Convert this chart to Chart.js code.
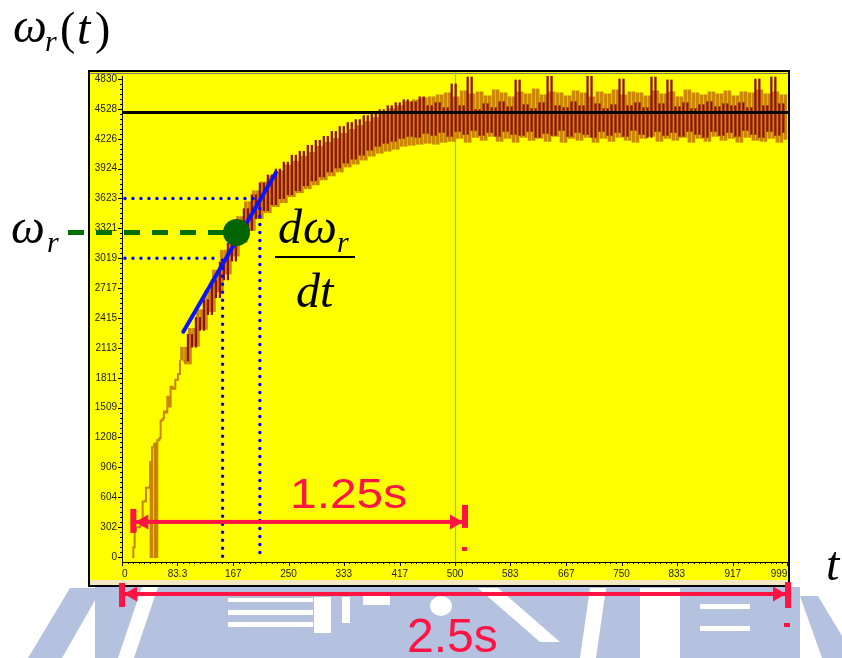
<!DOCTYPE html>
<html>
<head>
<meta charset="utf-8">
<script src="https://cdn.jsdelivr.net/npm/chart.js@4.4.1/dist/chart.umd.min.js"></script>
<style>
  html, body { margin: 0; padding: 0; background: #fff; }
  canvas { display: block; }
</style>
</head>
<body>
<canvas id="speed_canvas" width="842" height="658"></canvas>
<script>
// tick labels as printed on the plot
var yTickLabels = [0, 302, 604, 906, 1208, 1509, 1811, 2113, 2415, 2717, 3019, 3321, 3623, 3924, 4226, 4528, 4830];
var xTickLabels = [0, 83.3, 167, 250, 333, 417, 500, 583, 667, 750, 833, 917, 999];

// start of the run, read point by point
var earlyTimes = [15, 17, 19, 21, 27, 31, 35, 36, 41, 42, 43, 45, 48, 49, 50, 51, 53, 56, 58, 61, 63, 66, 68, 71, 73, 76, 80, 84, 87];
var earlySpeed = [0, 100, 270, 300, 320, 560, 570, 700, 710, 960, 0, 1110, 1140, 0, 1150, 0, 1180, 1200, 1380, 1400, 1470, 1460, 1620, 1520, 1720, 1700, 1790, 1850, 1990];

// noisy part, one sample every 6 time units
var sampleStep = 6;
var orangeStart = 90;
var orangeSpeed = [
  2120,1950,2310,2130,2500,2300,2690,2480,2900,2680,
  3100,2860,3260,3040,3440,3180,3590,3300,3700,3420,
  3790,3480,3850,3540,3900,3580,3960,3640,4000,3680,
  4050,3720,4090,3760,4150,3810,4190,3850,4230,3890,
  4280,3940,4320,3970,4360,4010,4400,4050,4440,4080,
  4500,4100,4530,4120,4560,4150,4600,4160,4620,4170,
  4640,4180,4650,4170,4670,4190,
  4690,4200,4650,4230,4710,4190,4680,4240,4700,4210,
  4660,4250,4720,4200,4690,4230,4650,4190,4700,4240,
  4680,4210,4730,4230,4670,4200,4700,4250,4690,4190,
  4660,4230,4710,4210,4690,4240,4650,4190,4700,4230,
  4680,4200,4720,4240,4670,4210,4700,4190,4690,4230,
  4660,4250,4710,4200,4680,4230,4700,4210,4650,4240,
  4720,4190,4690,4230,4670,4200,4700,4250,4680,4210,
  4710,4230,4660,4190,4700,4240,4690,4210,4720,4200,
  4680,4230,4700,4190,4670,4220
];
var redStart = 93;
var redSpeed = [
  1980,2250,2120,2420,2290,2600,2450,2800,2620,2980,
  2800,3170,2990,3350,3180,3520,3300,3660,3420,3780,
  3500,3860,3560,3920,3620,3990,3660,4060,3700,4100,
  3750,4160,3800,4210,3840,4250,3890,4300,3930,4350,
  3980,4390,4020,4420,4060,4460,4110,4500,4150,4520,
  4180,4560,4200,4590,4230,4620,4250,4600,4240,4650,
  4280,4560,4260,4590,4290,4540,4250,4780,4300,4560,
  4270,4850,4310,4520,4260,4580,4290,4540,4250,4600,
  4300,4550,4270,4820,4260,4570,4300,4530,4240,4590,
  4280,4860,4260,4560,4310,4540,4250,4600,4290,4560,
  4270,4860,4240,4580,4300,4530,4260,4570,4290,4830,
  4250,4560,4310,4590,4270,4540,4240,4850,4300,4580,
  4260,4820,4290,4550,4250,4590,4300,4530,4270,4570,
  4240,4600,4300,4550,4260,4580,4290,4560,4250,4590,
  4310,4540,4270,4830,4240,4560,4300,4850,4260,4580,
  4290
];

// marks drawn over the plot (data units)
var steadySpeed = 4490;
var halfTime = 500;
var pointTime = 172, pointSpeed = 3280;
var tangentTimes = [92, 231];
var tangentSpeed = [2276, 3882];
var dotSpeeds = [3623, 3019];
var dotTimes = [207, 151];
var shortArrow = [17, 515];
var shortArrowSpeed = 355;
var longArrow = [0, 1000];

var red = '#FF1443';

function earlyData() {
  var out = [];
  for (var i = 0; i < earlyTimes.length; i++) out.push({x: earlyTimes[i], y: earlySpeed[i]});
  return out;
}
// each sample is drawn as the vertical jump from the previous sample (sample and hold trace)
function jumpData(start, values, firstFrom) {
  var out = [];
  for (var j = 0; j < values.length; j++) {
    var from = j > 0 ? values[j - 1] : firstFrom;
    out.push({x: start + j * sampleStep, y: [from, values[j]]});
  }
  return out;
}

function drawWatermark(ctx) {
  ctx.save();
  ctx.fillStyle = '#B4C2E0';
  ctx.fillRect(95, 587, 705, 71);
  ctx.beginPath();
  ctx.moveTo(28, 658); ctx.lineTo(62, 658); ctx.lineTo(102, 588); ctx.lineTo(70, 588);
  ctx.fill();
  ctx.beginPath();
  ctx.moveTo(800, 596); ctx.lineTo(818, 596); ctx.lineTo(842, 636); ctx.lineTo(842, 658); ctx.lineTo(822, 658);
  ctx.fill();
  ctx.fillStyle = '#fff';
  ctx.beginPath();
  ctx.moveTo(118, 658); ctx.lineTo(134, 658); ctx.lineTo(158, 587); ctx.lineTo(142, 587);
  ctx.fill();
  ctx.fillRect(228, 598, 85, 4);
  ctx.fillRect(228, 610, 85, 5);
  ctx.fillRect(228, 622, 85, 5);
  ctx.fillRect(314, 597, 17, 36);
  ctx.fillRect(342, 597, 8, 26);
  ctx.fillRect(363, 595, 27, 10);
  ctx.beginPath();
  ctx.ellipse(441, 606, 11, 10, 0, 0, Math.PI * 2);
  ctx.fill();
  ctx.beginPath();
  ctx.moveTo(478, 588); ctx.lineTo(498, 588); ctx.lineTo(560, 642); ctx.lineTo(540, 642);
  ctx.fill();
  ctx.beginPath();
  ctx.moveTo(590, 588); ctx.lineTo(606, 588); ctx.lineTo(596, 658); ctx.lineTo(580, 658);
  ctx.fill();
  ctx.fillRect(640, 588, 40, 70);
  ctx.fillRect(700, 604, 50, 5);
  ctx.fillRect(700, 626, 50, 5);
  ctx.restore();
}

function drawFrame(ctx) {
  ctx.save();
  ctx.fillStyle = '#FFFF00';
  ctx.fillRect(90, 72, 699, 514);
  ctx.fillStyle = '#F3E8C0';
  ctx.fillRect(90, 580, 699, 5);
  ctx.fillStyle = '#777';
  ctx.fillRect(90, 73, 698, 1);
  ctx.strokeStyle = '#000';
  ctx.lineWidth = 2;
  ctx.strokeRect(89, 71, 700, 515);
  ctx.restore();
}

function drawAxisTicks(chart) {
  var ctx = chart.ctx, xs = chart.scales.x, ys = chart.scales.y;
  ctx.save();
  ctx.strokeStyle = '#000';
  ctx.lineWidth = 1;
  ctx.beginPath();
  var i, k, p;
  for (i = 0; i < yTickLabels.length; i++) {
    p = Math.round(ys.getPixelForValue(yTickLabels[i])) + 0.5;
    ctx.moveTo(xs.left - 4, p); ctx.lineTo(xs.left, p);
    var gap = i < yTickLabels.length - 1 ? yTickLabels[i + 1] - yTickLabels[i] : 302;
    for (k = 1; k < 6; k++) {
      var vy = yTickLabels[i] + gap * k / 6;
      if (vy > ys.max) break;
      p = Math.round(ys.getPixelForValue(vy)) + 0.5;
      ctx.moveTo(xs.left - 2, p); ctx.lineTo(xs.left, p);
    }
  }
  for (i = 0; i < xTickLabels.length; i++) {
    p = Math.round(xs.getPixelForValue(xTickLabels[i])) + 0.5;
    ctx.moveTo(p, ys.bottom); ctx.lineTo(p, ys.bottom + 4);
    if (i < xTickLabels.length - 1) {
      for (k = 1; k < 10; k++) {
        var vx = xTickLabels[i] + (xTickLabels[i + 1] - xTickLabels[i]) * k / 10;
        p = Math.round(xs.getPixelForValue(vx)) + 0.5;
        ctx.moveTo(p, ys.bottom); ctx.lineTo(p, ys.bottom + 2);
      }
    }
  }
  ctx.stroke();
  ctx.restore();
}

function redArrow(ctx, x1, x2, y, leftBar, rightBar) {
  ctx.fillStyle = red;
  ctx.fillRect(x1 - 3, leftBar[0], 6, leftBar[1] - leftBar[0]);
  ctx.fillRect(x2 - 3, rightBar[0], 6, rightBar[1] - rightBar[0]);
  ctx.fillRect(x1, y - 2, x2 - x1, 4);
  ctx.beginPath();
  ctx.moveTo(x1 + 2, y); ctx.lineTo(x1 + 15, y - 7.5); ctx.lineTo(x1 + 15, y + 7.5);
  ctx.closePath(); ctx.fill();
  ctx.beginPath();
  ctx.moveTo(x2 - 2, y); ctx.lineTo(x2 - 15, y - 7.5); ctx.lineTo(x2 - 15, y + 7.5);
  ctx.closePath(); ctx.fill();
}

function mathText(ctx, txt, x, y, size, italic) {
  ctx.font = (italic ? 'italic ' : '') + size + 'px "Liberation Serif", "DejaVu Serif", serif';
  ctx.fillText(txt, x, y);
}

var marks = {
  id: 'marks',
  beforeDraw: function(chart) {
    var ctx = chart.ctx;
    ctx.save();
    ctx.fillStyle = '#fff';
    ctx.fillRect(0, 0, chart.width, chart.height);
    ctx.restore();
    drawWatermark(ctx);
    drawFrame(ctx);
  },
  beforeDatasetsDraw: function(chart) {
    var ctx = chart.ctx, xs = chart.scales.x, ys = chart.scales.y;
    var px = Math.round(xs.getPixelForValue(halfTime)) + 0.5;
    ctx.save();
    ctx.strokeStyle = '#3FD8C8';
    ctx.lineWidth = 1.2;
    ctx.beginPath();
    ctx.moveTo(px, ys.top - 4); ctx.lineTo(px, ys.bottom);
    ctx.stroke();
    ctx.restore();
  },
  afterDatasetsDraw: function(chart) {
    var ctx = chart.ctx, xs = chart.scales.x, ys = chart.scales.y;
    ctx.save();
    ctx.strokeStyle = '#000';
    ctx.lineWidth = 3;
    ctx.beginPath();
    var sy = ys.getPixelForValue(steadySpeed);
    ctx.moveTo(xs.left, sy); ctx.lineTo(xs.right, sy);
    ctx.stroke();

    ctx.strokeStyle = '#0000FF';
    ctx.lineWidth = 3.5;
    ctx.lineCap = 'round';
    ctx.setLineDash([0, 8]);
    for (var i = 0; i < dotSpeeds.length; i++) {
      var gy = ys.getPixelForValue(dotSpeeds[i]);
      var gx = xs.getPixelForValue(dotTimes[i]);
      ctx.beginPath();
      ctx.moveTo(xs.left + 3, gy); ctx.lineTo(gx - 4, gy);
      ctx.stroke();
      ctx.beginPath();
      ctx.moveTo(gx, gy + 2); ctx.lineTo(gx, ys.getPixelForValue(0));
      ctx.stroke();
    }
    ctx.setLineDash([]);

    ctx.strokeStyle = '#0A14FF';
    ctx.lineWidth = 4;
    ctx.beginPath();
    ctx.moveTo(xs.getPixelForValue(tangentTimes[0]), ys.getPixelForValue(tangentSpeed[0]));
    ctx.lineTo(xs.getPixelForValue(tangentTimes[1]), ys.getPixelForValue(tangentSpeed[1]));
    ctx.stroke();
    ctx.restore();
  },
  afterDraw: function(chart) {
    var ctx = chart.ctx, xs = chart.scales.x, ys = chart.scales.y;
    drawAxisTicks(chart);
    ctx.save();

    var px = xs.getPixelForValue(pointTime), py = ys.getPixelForValue(pointSpeed);
    ctx.strokeStyle = '#007000';
    ctx.lineWidth = 5;
    ctx.setLineDash([16, 12]);
    ctx.beginPath();
    ctx.moveTo(68, py); ctx.lineTo(px, py);
    ctx.stroke();
    ctx.setLineDash([]);
    ctx.fillStyle = '#006400';
    ctx.beginPath();
    ctx.arc(px, py, 13.5, 0, Math.PI * 2);
    ctx.fill();

    var ay = ys.getPixelForValue(shortArrowSpeed);
    redArrow(ctx, xs.getPixelForValue(shortArrow[0]), xs.getPixelForValue(shortArrow[1]), ay, [ay - 13, ay + 11], [ay - 17, ay + 6]);
    ctx.fillRect(xs.getPixelForValue(shortArrow[1]) - 3, 547, 5, 4);
    redArrow(ctx, xs.getPixelForValue(longArrow[0]), xs.getPixelForValue(longArrow[1]), 594, [583, 607], [582, 608]);
    ctx.fillRect(xs.getPixelForValue(longArrow[1]) - 4, 623, 6, 4);

    ctx.fillStyle = red;
    ctx.textBaseline = 'alphabetic';
    ctx.font = '42px "Liberation Sans", Arial, sans-serif';
    ctx.save();
    ctx.translate(290, 508);
    ctx.scale(1.14, 1);
    ctx.fillText('1.25s', 0, 0);
    ctx.restore();
    ctx.font = '48px "Liberation Sans", Arial, sans-serif';
    ctx.fillText('2.5s', 407, 652);

    ctx.fillStyle = '#000';
    mathText(ctx, '\u03C9', 13, 42, 48, true);
    mathText(ctx, 'r', 45, 51, 30, true);
    mathText(ctx, '(', 60, 44, 46, false);
    mathText(ctx, 't', 77, 44, 48, true);
    mathText(ctx, ')', 95, 44, 46, false);

    mathText(ctx, '\u03C9', 11, 243, 48, true);
    mathText(ctx, 'r', 47, 252, 30, true);

    mathText(ctx, 'd', 278, 243, 48, true);
    mathText(ctx, '\u03C9', 303, 243, 48, true);
    mathText(ctx, 'r', 337, 252, 30, true);
    ctx.fillRect(275, 256, 80, 2);
    mathText(ctx, 'dt', 296, 307, 48, true);

    mathText(ctx, 't', 826, 580, 48, true);
    ctx.restore();
  }
};

var tickFont = {family: '"Liberation Sans", Arial, sans-serif', size: 10};

var chart = new Chart(document.getElementById('speed_canvas'), {
  type: 'line',
  data: {
    datasets: [
      {
        label: 'speed (start)',
        data: earlyData(),
        borderColor: '#C88400',
        borderWidth: 2,
        pointRadius: 0,
        stepped: true,
        fill: false,
        order: 3
      },
      {
        type: 'bar',
        label: 'speed',
        data: jumpData(orangeStart, orangeSpeed, earlySpeed[earlySpeed.length - 1]),
        backgroundColor: '#CC8800',
        borderWidth: 0,
        barThickness: 3,
        grouped: false,
        order: 2
      },
      {
        type: 'bar',
        label: 'speed (dark)',
        data: jumpData(redStart, redSpeed, redSpeed[0]),
        backgroundColor: '#8C1010',
        borderWidth: 0,
        barThickness: 1.6,
        grouped: false,
        order: 1
      }
    ]
  },
  options: {
    responsive: false,
    animation: false,
    layout: { padding: { left: 89, right: 54, top: 76, bottom: 78 } },
    plugins: {
      legend: { display: false },
      tooltip: { enabled: false },
      title: { display: false }
    },
    scales: {
      x: {
        type: 'linear',
        min: 0,
        max: 1000,
        offset: false,
        afterBuildTicks: function(s) { s.ticks = xTickLabels.map(function(v) { return {value: v}; }); },
        afterFit: function(s) { s.height = 18; s.paddingLeft = 0; s.paddingRight = 0; },
        grid: { display: false, drawTicks: false, offset: false },
        border: { display: true, color: '#000', width: 1 },
        ticks: {
          autoSkip: false, maxRotation: 0, padding: 6, align: 'inner',
          color: '#222', font: tickFont,
          callback: function(v) { return String(v); }
        }
      },
      y: {
        type: 'linear',
        min: -50,
        max: 4860,
        afterBuildTicks: function(s) { s.ticks = yTickLabels.map(function(v) { return {value: v}; }); },
        afterFit: function(s) { s.width = 33; s.paddingTop = 0; s.paddingBottom = 0; },
        grid: { display: false, drawTicks: false },
        border: { display: true, color: '#000', width: 1 },
        ticks: {
          autoSkip: false, padding: 5,
          color: '#222', font: tickFont,
          callback: function(v) { return String(v); }
        }
      }
    }
  },
  plugins: [marks]
});
</script>
</body>
</html>
